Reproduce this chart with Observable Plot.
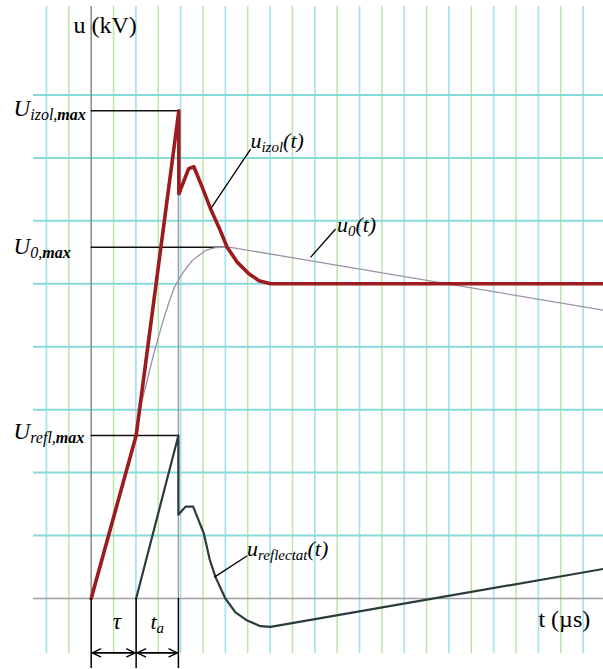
<!DOCTYPE html>
<html>
<head>
<meta charset="utf-8">
<script src="https://cdn.jsdelivr.net/npm/d3@7"></script>
<script src="https://cdn.jsdelivr.net/npm/@observablehq/plot@0.6"></script>
<style>
  html, body { margin: 0; padding: 0; background: #fff; }
  #chart svg { display: block; font-family: "Liberation Serif", "Times New Roman", serif; }
  #chart svg text { font-family: "Liberation Serif", "Times New Roman", serif; }
</style>
</head>
<body>
<div id="chart"></div>
<script>
// ---- data (grid units: t in minor divisions, u in major divisions) ----
const uIzol = [
  [0, 0], [2.01, 2.59], [3.92, 7.75], [3.92, 6.43], [4.36, 6.83], [4.59, 6.86],
  [4.96, 6.54], [5.34, 6.19], [5.71, 5.90], [6.08, 5.58], [6.54, 5.34],
  [7.05, 5.16], [7.5, 5.05], [8.02, 5.00], [22.91, 5.00]
];
const uRefl = [
  [2.01, 0], [3.9, 2.59], [3.9, 1.33], [4.22, 1.46], [4.56, 1.46], [5.04, 1.03],
  [5.3, 0.62], [5.56, 0.34], [6.0, 0], [6.45, -0.22], [6.98, -0.35], [7.57, -0.44],
  [8.02, -0.45], [22.91, 0.47]
];
const u0 = [
  [0, 0], [2.01, 2.59], [2.20, 3.04], [2.50, 3.46], [2.80, 3.89], [3.22, 4.42],
  [3.50, 4.73], [3.73, 4.95], [4.07, 5.16], [4.52, 5.37], [5.11, 5.53], [5.5, 5.57],
  [5.78, 5.58], [6.23, 5.58], [22.91, 4.58]
];
// levels: value and time where it is reached
const levels = [
  {u: 7.75, t: 3.92},  // U izol,max
  {u: 5.58, t: 6.08},  // U 0,max
  {u: 2.59, t: 3.92}   // U refl,max
];
const tau = 2.01, tEnd = 3.9;
const dimTimes = [0, tau, tEnd];
const gridTimes = d3.range(-2, 23);
const gridLevels = [1, 2, 3, 4, 5, 6, 7, 8];
const gridT = [-2.58, 22.91];
const gridU = [-0.874, 9.406];
const dimBottom = -1.112, arrowLevel = -0.863;

const levelLabels = [
  {t: -3.47, u: 7.67, main: "U", sub: "izol,", bold: "max", tail: ""},
  {t: -3.47, u: 5.48, main: "U", sub: "0,", bold: "max", tail: ""},
  {t: -3.47, u: 2.53, main: "U", sub: "refl,", bold: "max", tail: ""}
];
const curveLabels = [
  {t: 7.12, u: 7.15, main: "u", sub: "izol", bold: "", tail: "(t)"},
  {t: 10.99, u: 5.83, main: "u", sub: "0", bold: "", tail: "(t)"},
  {t: 6.97, u: 0.67, main: "u", sub: "reflectat", bold: "", tail: "(t)"},
  {t: 2.65, u: -0.48, main: "t", sub: "a", bold: "", tail: ""}
];
const leaders = [
  {t1: 7.13, u1: 7.14, t2: 5.34, u2: 6.19},
  {t1: 10.93, u1: 5.87, t2: 9.81, u2: 5.42},
  {t1: 6.98, u1: 0.68, t2: 5.51, u2: 0.34}
];
const axisTitles = [
  {t: -0.79, u: 8.98, text: "u (kV)"},
  {t: 20.0, u: -0.46, text: "t (µs)"}
];
const tauLabel = [{t: 1.15, u: -0.48, text: "τ"}];

// ---- build ----
const serif = "Liberation Serif";
const pts = a => a.map(([t, u]) => ({t, u}));
const plain = d => d.main + d.sub + d.bold + d.tail;
const arrows = [
  {x1: dimTimes[0], x2: dimTimes[1]}, {x1: dimTimes[1], x2: dimTimes[0]},
  {x1: dimTimes[1], x2: dimTimes[2]}, {x1: dimTimes[2], x2: dimTimes[1]}
];

const chart = Plot.plot({
  width: 603,
  height: 669,
  margin: 0,
  x: {domain: [-4.0564, 22.912], axis: null},
  y: {domain: [-1.128, 9.501], axis: null},
  style: {background: "white", overflow: "visible"},
  marks: [
    // grid
    Plot.ruleX(gridTimes.filter(t => t !== 0 && t % 2 !== 0), {x: d => d, y1: gridU[0], y2: gridU[1], stroke: "#bde4ab", strokeWidth: 1.5}),
    Plot.ruleX(gridTimes.filter(t => t !== 0 && t % 2 === 0), {x: d => d, y1: gridU[0], y2: gridU[1], stroke: "#a6e3ec", strokeWidth: 1.7}),
    Plot.ruleY(gridLevels, {y: d => d, x1: gridT[0], x2: gridT[1], stroke: "#86dad8", strokeWidth: 2}),
    // axes
    Plot.ruleY([0], {x1: gridT[0], x2: gridT[1], stroke: "#a0a0a0", strokeWidth: 1.6}),
    Plot.ruleX([0], {y1: 0, y2: gridU[1], stroke: "#909090", strokeWidth: 1.6}),
    Plot.ruleX([tEnd], {y1: 0, y2: levels[0].u, stroke: "#9a9a9a", strokeWidth: 1.4}),
    // level lines
    Plot.ruleY(levels, {y: "u", x1: 0, x2: "t", stroke: "#111", strokeWidth: 1.5}),
    // curves
    Plot.line(pts(u0), {x: "t", y: "u", stroke: "#9e90aa", strokeWidth: 1.3, strokeLinejoin: "round"}),
    Plot.line(pts(uRefl), {x: "t", y: "u", stroke: "#2b3a3a", strokeWidth: 2.2, strokeLinejoin: "round"}),
    Plot.line(pts(uIzol), {x: "t", y: "u", stroke: "#9b1b1e", strokeWidth: 3.6, strokeLinejoin: "round"}),
    // leaders
    Plot.link(leaders, {x1: "t1", y1: "u1", x2: "t2", y2: "u2", stroke: "#000", strokeWidth: 1.3}),
    // dimension lines
    Plot.ruleX(dimTimes, {x: d => d, y1: 0, y2: dimBottom, stroke: "#000", strokeWidth: 1.5}),
    Plot.arrow(arrows, {x1: "x1", x2: "x2", y1: arrowLevel, y2: arrowLevel, stroke: "#000", strokeWidth: 1.4, headLength: 10, headAngle: 50, insetStart: 1, insetEnd: 1}),
    // texts
    Plot.text(axisTitles, {x: "t", y: "u", text: "text", textAnchor: "start", lineAnchor: "bottom", fontSize: 24, fontFamily: serif, fill: "#000"}),
    Plot.text(tauLabel, {x: "t", y: "u", text: "text", textAnchor: "middle", lineAnchor: "bottom", fontSize: 23, fontFamily: serif, fontStyle: "italic", fill: "#000"}),
    Plot.text(levelLabels, {x: "t", y: "u", text: plain, textAnchor: "start", lineAnchor: "bottom", fontSize: 23, fontFamily: serif, fontStyle: "italic", fill: "#000"}),
    Plot.text(curveLabels, {x: "t", y: "u", text: plain, textAnchor: "start", lineAnchor: "bottom", fontSize: 22, fontFamily: serif, fontStyle: "italic", fill: "#000"})
  ]
});

function richify(svg, items, subSize, shift) {
  const texts = Array.from(svg.querySelectorAll("text"));
  for (const d of items) {
    const node = texts.find(n => n.textContent === plain(d) && !n.__done);
    if (!node) continue;
    node.__done = true;
    const el = d3.select(node);
    el.text(null);
    el.append("tspan").text(d.main);
    if (d.sub) el.append("tspan").attr("dy", shift).attr("font-size", subSize).text(d.sub);
    if (d.bold) el.append("tspan").attr("font-size", subSize).attr("font-weight", "bold").text(d.bold);
    if (d.tail) el.append("tspan").attr("dy", -shift).text(d.tail);
  }
}
richify(chart, levelLabels, 16, 4);
richify(chart, curveLabels, 15, 4);

document.getElementById("chart").appendChild(chart);
</script>
</body>
</html>
